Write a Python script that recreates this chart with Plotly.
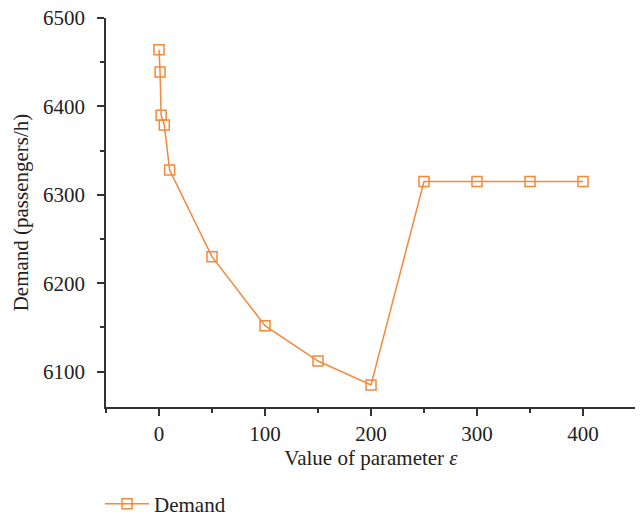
"""Demand vs. parameter epsilon"""

import plotly.graph_objects as go

eps_values = [0, 1, 2, 5, 10, 50, 100, 150, 200, 250, 300, 350, 400]
demand = [6464, 6439, 6390, 6379, 6328, 6230, 6152, 6112, 6085, 6315, 6315, 6315, 6315]

ORANGE = "#F5883A"
AXIS = "#333333"
TEXT = "#222222"
FONT = "Liberation Serif, Times New Roman, serif"

fig = go.Figure()
fig.add_trace(go.Scatter(
    x=eps_values,
    y=demand,
    mode="lines+markers",
    name="Demand",
    line=dict(color=ORANGE, width=1.5),
    marker=dict(symbol="square-open", size=10, color=ORANGE, line=dict(width=1.5)),
))

axis_common = dict(
    showgrid=False,
    zeroline=False,
    showline=True,
    linecolor=AXIS,
    linewidth=1.5,
    ticks="outside",
    ticklen=7,
    tickwidth=1.5,
    tickcolor=AXIS,
    tickfont=dict(family=FONT, size=21, color=TEXT),
    minor=dict(ticks="outside", ticklen=4, tickwidth=1.5, tickcolor=AXIS, dtick=50),
    automargin=False,
    ticklabeloverflow="allow",
)

fig.update_xaxes(
    range=[-50, 450],
    tick0=0,
    dtick=100,
    title=dict(text="Value of parameter <i>ε</i>", font=dict(family=FONT, size=21, color=TEXT),
               standoff=5),
    ticklabelstandoff=0,
    **axis_common,
)
fig.update_yaxes(
    range=[6060, 6500],
    tick0=6100,
    dtick=100,
    title=dict(text="Demand (passengers/h)", font=dict(family=FONT, size=21, color=TEXT),
               standoff=9),
    ticklabelstandoff=8,
    **axis_common,
)

fig.update_layout(
    width=643,
    height=519,
    margin=dict(l=98, r=15, t=10, b=120),
    plot_bgcolor="white",
    paper_bgcolor="white",
    font=dict(family=FONT, size=21, color=TEXT),
    showlegend=True,
    legend=dict(
        orientation="h",
        xref="container",
        x=92 / 643,
        xanchor="left",
        yref="container",
        y=0.044,
        yanchor="middle",
        itemwidth=44,
        font=dict(family=FONT, size=21, color=TEXT),
    ),
)

fig.write_html("out.html")
